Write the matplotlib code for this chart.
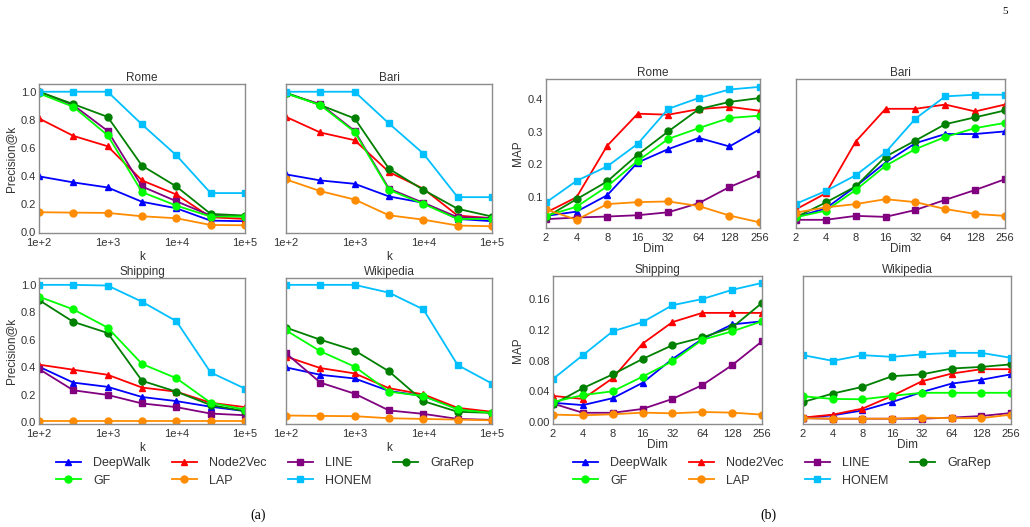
import matplotlib
matplotlib.use('Agg')
import matplotlib.pyplot as plt
from matplotlib.ticker import FixedLocator, FormatStrFormatter

plt.rcParams['font.family'] = ['Liberation Sans', 'DejaVu Sans']

# methods and styles
metodos = ['DeepWalk', 'Node2Vec', 'LINE', 'GraRep', 'GF', 'LAP', 'HONEM']
cores = ['blue', 'red', 'purple', 'green', 'lime', 'darkorange', 'deepskyblue']
marcadores = ['^', '^', 's', 'o', 'o', 'o', 's']

# (a) Precision@k
k_vals = [100, 316, 1000, 3162, 10000, 31623, 100000]
k_ticks = [1e2, 1e3, 1e4, 1e5]
k_labels = ['1e+2', '1e+3', '1e+4', '1e+5']

prec_rome = {
    'DeepWalk': [0.398, 0.355, 0.319, 0.217, 0.171, 0.083, 0.079],
    'Node2Vec': [0.81, 0.686, 0.612, 0.369, 0.269, 0.107, 0.095],
    'LINE': [1.0, 0.905, 0.721, 0.326, 0.221, 0.119, 0.112],
    'GraRep': [1.0, 0.912, 0.821, 0.474, 0.326, 0.131, 0.119],
    'GF': [0.988, 0.893, 0.69, 0.286, 0.19, 0.112, 0.112],
    'LAP': [0.143, 0.14, 0.138, 0.114, 0.1, 0.052, 0.05],
    'HONEM': [1.0, 1.0, 1.0, 0.767, 0.548, 0.279, 0.279],
}
prec_bari = {
    'DeepWalk': [0.412, 0.369, 0.345, 0.255, 0.21, 0.095, 0.079],
    'Node2Vec': [0.821, 0.71, 0.655, 0.429, 0.31, 0.119, 0.1],
    'LINE': [0.988, 0.912, 0.721, 0.31, 0.21, 0.107, 0.102],
    'GraRep': [0.993, 0.905, 0.81, 0.452, 0.302, 0.167, 0.112],
    'GF': [0.988, 0.905, 0.714, 0.302, 0.202, 0.095, 0.095],
    'LAP': [0.376, 0.293, 0.233, 0.121, 0.09, 0.048, 0.043],
    'HONEM': [1.0, 1.0, 1.0, 0.774, 0.56, 0.25, 0.25],
}
prec_shipping = {
    'DeepWalk': [0.403, 0.287, 0.256, 0.182, 0.152, 0.111, 0.079],
    'Node2Vec': [0.418, 0.381, 0.344, 0.251, 0.221, 0.14, 0.108],
    'LINE': [0.386, 0.231, 0.197, 0.135, 0.108, 0.061, 0.049],
    'GraRep': [0.889, 0.73, 0.649, 0.3, 0.221, 0.123, 0.079],
    'GF': [0.914, 0.821, 0.688, 0.423, 0.319, 0.14, 0.09],
    'LAP': [0.01, 0.01, 0.01, 0.01, 0.01, 0.01, 0.01],
    'HONEM': [1.0, 1.0, 0.995, 0.877, 0.735, 0.361, 0.243],
}
prec_wiki = {
    'DeepWalk': [0.398, 0.344, 0.317, 0.226, 0.189, 0.098, 0.066],
    'Node2Vec': [0.477, 0.393, 0.354, 0.246, 0.201, 0.103, 0.074],
    'LINE': [0.501, 0.287, 0.206, 0.084, 0.059, 0.022, 0.015],
    'GraRep': [0.688, 0.6, 0.521, 0.369, 0.152, 0.074, 0.066],
    'GF': [0.668, 0.516, 0.403, 0.221, 0.189, 0.091, 0.066],
    'LAP': [0.047, 0.044, 0.042, 0.027, 0.022, 0.017, 0.012],
    'HONEM': [1.0, 1.0, 1.0, 0.943, 0.821, 0.415, 0.28],
}

# (b) MAP vs Dim
dims = [2, 4, 8, 16, 32, 64, 128, 256]
dim_labels = ['2', '4', '8', '16', '32', '64', '128', '256']

map_rome = {
    'DeepWalk': [0.043, 0.056, 0.106, 0.206, 0.247, 0.281, 0.255, 0.308],
    'Node2Vec': [0.053, 0.1, 0.257, 0.355, 0.352, 0.369, 0.376, 0.364],
    'LINE': [0.033, 0.038, 0.041, 0.045, 0.054, 0.082, 0.131, 0.17],
    'GraRep': [0.039, 0.094, 0.148, 0.23, 0.301, 0.369, 0.391, 0.403],
    'GF': [0.043, 0.071, 0.133, 0.211, 0.278, 0.311, 0.342, 0.349],
    'LAP': [0.063, 0.031, 0.079, 0.085, 0.087, 0.073, 0.044, 0.023],
    'HONEM': [0.084, 0.15, 0.194, 0.263, 0.37, 0.403, 0.429, 0.437],
}
map_bari = {
    'DeepWalk': [0.039, 0.066, 0.133, 0.206, 0.265, 0.293, 0.293, 0.301],
    'Node2Vec': [0.063, 0.112, 0.27, 0.37, 0.37, 0.383, 0.362, 0.383],
    'LINE': [0.031, 0.031, 0.043, 0.04, 0.061, 0.092, 0.122, 0.155],
    'GraRep': [0.039, 0.084, 0.133, 0.224, 0.273, 0.323, 0.344, 0.365],
    'GF': [0.039, 0.059, 0.122, 0.196, 0.247, 0.284, 0.311, 0.327],
    'LAP': [0.053, 0.069, 0.079, 0.094, 0.085, 0.064, 0.049, 0.043],
    'HONEM': [0.08, 0.119, 0.167, 0.237, 0.34, 0.408, 0.413, 0.413],
}
map_shipping = {
    'DeepWalk': [0.025, 0.022, 0.031, 0.051, 0.082, 0.108, 0.127, 0.131],
    'Node2Vec': [0.034, 0.03, 0.057, 0.102, 0.13, 0.142, 0.142, 0.142],
    'LINE': [0.024, 0.012, 0.012, 0.017, 0.03, 0.048, 0.074, 0.105],
    'GraRep': [0.023, 0.044, 0.062, 0.082, 0.1, 0.11, 0.123, 0.155],
    'GF': [0.026, 0.035, 0.04, 0.059, 0.079, 0.107, 0.118, 0.131],
    'LAP': [0.0096, 0.0087, 0.01, 0.0122, 0.0113, 0.013, 0.0122, 0.0096],
    'HONEM': [0.056, 0.087, 0.118, 0.13, 0.152, 0.16, 0.172, 0.181],
}
map_wiki = {
    'DeepWalk': [0.0052, 0.0087, 0.015, 0.026, 0.039, 0.05, 0.055, 0.062],
    'Node2Vec': [0.0057, 0.0096, 0.0174, 0.034, 0.053, 0.063, 0.0687, 0.0687],
    'LINE': [0.005, 0.0043, 0.0043, 0.0043, 0.0043, 0.0057, 0.0078, 0.0117],
    'GraRep': [0.026, 0.037, 0.0457, 0.0596, 0.062, 0.0696, 0.0717, 0.075],
    'GF': [0.0335, 0.03, 0.0296, 0.034, 0.038, 0.038, 0.038, 0.038],
    'LAP': [0.005, 0.0043, 0.0043, 0.0043, 0.0057, 0.005, 0.005, 0.0096],
    'HONEM': [0.087, 0.0796, 0.087, 0.0848, 0.088, 0.09, 0.09, 0.0835],
}

W, H = 1030, 527
fig = plt.figure(figsize=(W / 100, H / 100), dpi=100)


def eixo(x0, x1, y0, y1):
    # pixel box -> figure fraction
    return fig.add_axes([x0 / W, 1 - y1 / H, (x1 - x0) / W, (y1 - y0) / H])


def desenha(ax, xs, dados, titulo):
    for m, c, mk in zip(metodos, cores, marcadores):
        ax.plot(xs, dados[m], color=c, marker=mk, markersize=5, linewidth=1.3, label=m)
    ax.set_title(titulo, fontsize=8.5, color='#333333', pad=2.5)
    ax.tick_params(length=0, labelsize=8, colors='#333333', pad=2)
    ax.tick_params(axis='x', pad=3.5)
    for s in ax.spines.values():
        s.set_color('#8c8c8c')
        s.set_linewidth(1.0)


# (a)
paineis_a = [
    (prec_rome, 'Rome', (39, 245, 84, 233), True, (-0.005, 1.055)),
    (prec_bari, 'Bari', (286, 492, 84, 233), False, (-0.005, 1.055)),
    (prec_shipping, 'Shipping', (39, 245, 278, 424), True, (-0.015, 1.05)),
    (prec_wiki, 'Wikipedia', (286, 492, 278, 424), False, (-0.015, 1.05)),
]
for dados, titulo, box, rotulo, ylim in paineis_a:
    ax = eixo(*box)
    desenha(ax, k_vals, dados, titulo)
    ax.set_xscale('log')
    ax.set_xlim(1e2, 1e5)
    ax.set_ylim(*ylim)
    ax.xaxis.set_major_locator(FixedLocator(k_ticks))
    ax.xaxis.set_minor_locator(FixedLocator([]))
    ax.set_xticklabels(k_labels)
    ax.set_yticks([0.0, 0.2, 0.4, 0.6, 0.8, 1.0])
    ax.yaxis.set_major_formatter(FormatStrFormatter('%.1f'))
    if rotulo:
        ax.set_ylabel('Precision@k', fontsize=8.5, color='#333333', labelpad=3)
    else:
        ax.set_yticklabels([])
    ax.set_xlabel('k', fontsize=8.5, color='#333333', labelpad=2)

# (b)
paineis_b = [
    (map_rome, 'Rome', (546, 760, 79, 228), True, (0.006, 0.461), [0.1, 0.2, 0.3, 0.4], '%.1f'),
    (map_bari, 'Bari', (796, 1005, 79, 228), False, (0.006, 0.461), [0.1, 0.2, 0.3, 0.4], '%.1f'),
    (map_shipping, 'Shipping', (553, 762, 276, 424), True, (-0.0026, 0.19),
     [0.0, 0.04, 0.08, 0.12, 0.16], '%.2f'),
    (map_wiki, 'Wikipedia', (803, 1011, 276, 424), False, (-0.0026, 0.19),
     [0.0, 0.04, 0.08, 0.12, 0.16], '%.2f'),
]
for dados, titulo, box, rotulo, ylim, yt, fmt in paineis_b:
    ax = eixo(*box)
    desenha(ax, dims, dados, titulo)
    ax.set_xscale('log', base=2)
    ax.set_xlim(2, 256)
    ax.set_ylim(*ylim)
    ax.xaxis.set_major_locator(FixedLocator(dims))
    ax.xaxis.set_minor_locator(FixedLocator([]))
    ax.set_xticklabels(dim_labels)
    ax.set_yticks(yt)
    ax.yaxis.set_major_formatter(FormatStrFormatter(fmt))
    if rotulo:
        ax.set_ylabel('MAP', fontsize=8.5, color='#333333', labelpad=3)
    else:
        ax.set_yticklabels([])
    ax.set_xlabel('Dim', fontsize=8.5, color='#333333', labelpad=0)

# legends (column-wise fill -> reorder)
handles, labels = ax.get_legend_handles_labels()
ordem = [0, 4, 1, 5, 2, 6, 3]
h = [handles[i] for i in ordem]
l = [labels[i] for i in ordem]
for cx in (265, 782):
    fig.legend(h, l, loc='center', bbox_to_anchor=(cx / W, 1 - 472 / H), ncol=4,
               frameon=False, fontsize=9, handlelength=2.0, columnspacing=1.7,
               labelspacing=0.45, handletextpad=1.0, labelcolor='#333333')

fig.text(258 / W, 1 - 515 / H, '(a)', ha='center', va='center', fontsize=10,
         family='Liberation Serif')
fig.text(768 / W, 1 - 515 / H, '(b)', ha='center', va='center', fontsize=10,
         family='Liberation Serif')
fig.text(1005 / W, 1 - 12 / H, '5', ha='center', va='center', fontsize=8,
         family='Liberation Serif')

fig.savefig('out.png', dpi=100)
